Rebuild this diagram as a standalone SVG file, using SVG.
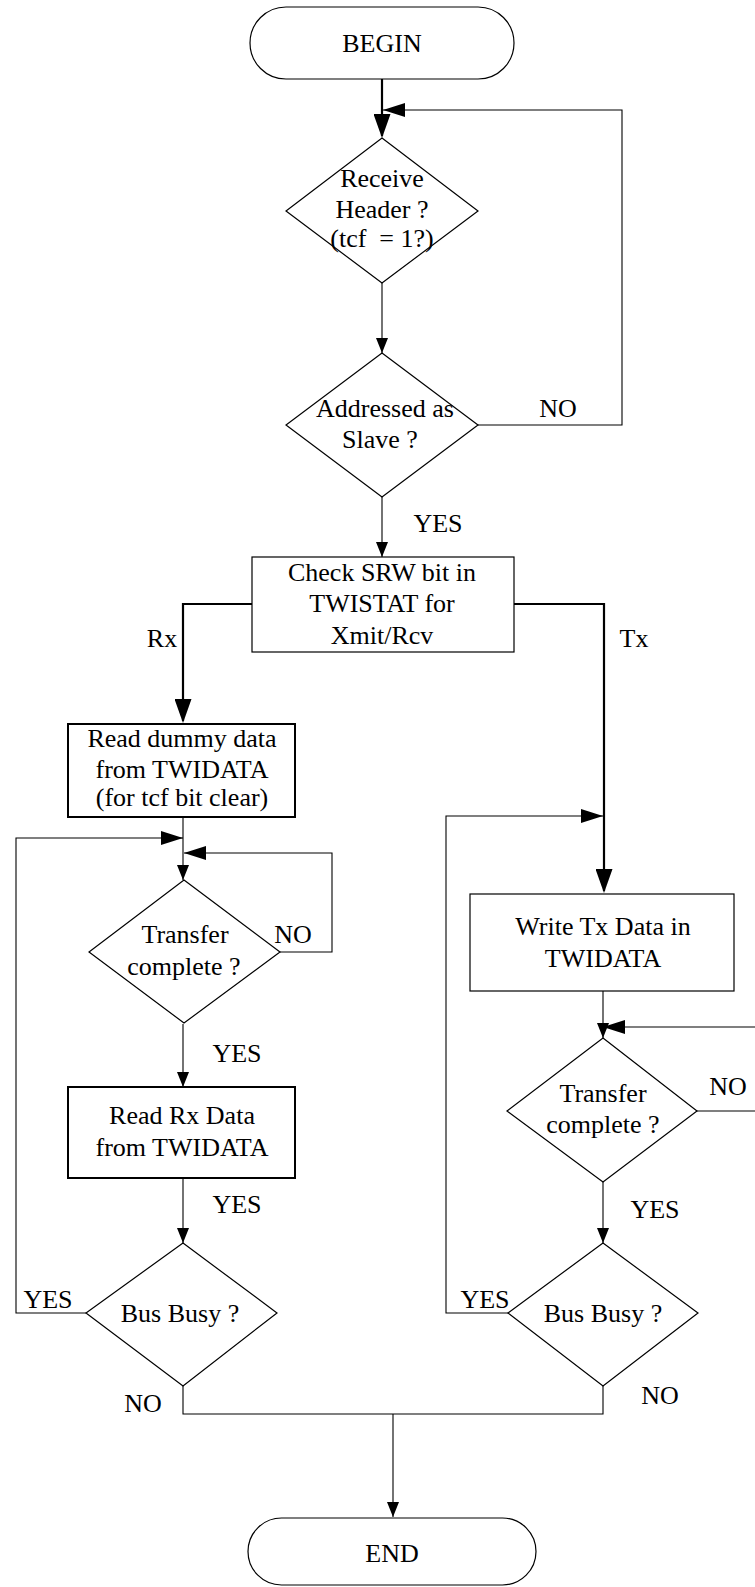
<svg xmlns="http://www.w3.org/2000/svg" width="755" height="1587" viewBox="0 0 755 1587">
  <style>
    text { font-family: "Liberation Serif", "Times New Roman", serif; font-size: 26px; fill: #000; text-anchor: middle; }
    .shape { fill: #fff; stroke: #000; stroke-width: 1.2; }
    .box-bold { fill: #fff; stroke: #000; stroke-width: 2; }
    .wire { fill: none; stroke: #000; stroke-width: 1.1; }
    .wire-bold { fill: none; stroke: #000; stroke-width: 2.2; }
  </style>
  <defs>
    <marker id="arrow-small" markerUnits="userSpaceOnUse" viewBox="0 0 15 12" markerWidth="15" markerHeight="12" refX="15" refY="6" orient="auto">
      <path d="M0,0 L15,6 L0,12 Z" fill="#000"/>
    </marker>
    <marker id="arrow-mid" markerUnits="userSpaceOnUse" viewBox="0 0 22 14" markerWidth="22" markerHeight="14" refX="22" refY="7" orient="auto">
      <path d="M0,0 L22,7 L0,14 Z" fill="#000"/>
    </marker>
    <marker id="arrow-big" markerUnits="userSpaceOnUse" viewBox="0 0 24 17" markerWidth="24" markerHeight="17" refX="22" refY="8.5" orient="auto">
      <path d="M0,0 L24,8.5 L0,17 Z" fill="#000"/>
    </marker>
  </defs>

  <!-- connectors -->
  <g id="connectors">
    <path class="wire-bold" d="M382,79 V136" marker-end="url(#arrow-big)"/>
    <path class="wire" d="M478,425 H622 V110 H383" marker-end="url(#arrow-mid)"/>
    <path class="wire" d="M382,283 V353" marker-end="url(#arrow-small)"/>
    <path class="wire" d="M382,497 V557" marker-end="url(#arrow-small)"/>
    <path class="wire-bold" d="M252,604 H183 V721" marker-end="url(#arrow-big)"/>
    <path class="wire-bold" d="M514,604 H604 V891" marker-end="url(#arrow-big)"/>
    <path class="wire" d="M183,818 V880" marker-end="url(#arrow-small)"/>
    <path class="wire" d="M86,1313 H16 V838 H183" marker-end="url(#arrow-mid)"/>
    <path class="wire" d="M280,952 H332 V853 H184" marker-end="url(#arrow-mid)"/>
    <path class="wire" d="M183,1024 V1087" marker-end="url(#arrow-small)"/>
    <path class="wire" d="M183,1178 V1243" marker-end="url(#arrow-small)"/>
    <path class="wire" d="M508,1313 H446 V816 H603" marker-end="url(#arrow-mid)"/>
    <path class="wire" d="M603,991 V1038" marker-end="url(#arrow-small)"/>
    <path class="wire" d="M697,1111 H758 V1027 H603" marker-end="url(#arrow-mid)"/>
    <path class="wire" d="M603,1182 V1243" marker-end="url(#arrow-small)"/>
    <path class="wire" d="M183,1386 V1414 H603 V1386"/>
    <path class="wire" d="M393,1414 V1517" marker-end="url(#arrow-small)"/>

    <text x="558" y="417">NO</text>
    <text x="438" y="532">YES</text>
    <text x="162" y="647">Rx</text>
    <text x="634" y="647">Tx</text>
    <text x="293" y="943">NO</text>
    <text x="237" y="1062">YES</text>
    <text x="237" y="1213">YES</text>
    <text x="48" y="1308">YES</text>
    <text x="143" y="1412">NO</text>
    <text x="728" y="1095">NO</text>
    <text x="655" y="1218">YES</text>
    <text x="485" y="1308">YES</text>
    <text x="660" y="1404">NO</text>
  </g>

  <!-- start terminal -->
  <g id="begin">
    <rect class="shape" x="250" y="7" width="264" height="72" rx="36" ry="36"/>
    <text x="382" y="52">BEGIN</text>
  </g>

  <g id="receive-header">
    <polygon class="shape" points="382,138 478,211 382,283 286,211"/>
    <text x="382" y="187">Receive</text>
    <text x="382" y="218">Header ?</text>
    <text x="382" y="247" xml:space="preserve">(tcf  = 1?)</text>
  </g>

  <g id="addressed-as-slave">
    <polygon class="shape" points="382,353 478,425 382,497 286,425"/>
    <text x="385" y="417">Addressed as</text>
    <text x="380" y="448">Slave ?</text>
  </g>

  <g id="check-srw">
    <rect class="shape" x="252" y="557" width="262" height="95"/>
    <text x="382" y="581">Check SRW bit in</text>
    <text x="382" y="612">TWISTAT for</text>
    <text x="382" y="644">Xmit/Rcv</text>
  </g>

  <!-- receive branch -->
  <g id="read-dummy">
    <rect class="box-bold" x="68" y="724" width="227" height="93"/>
    <text x="182" y="747">Read dummy data</text>
    <text x="182" y="778">from TWIDATA</text>
    <text x="182" y="806">(for tcf bit clear)</text>
  </g>

  <g id="rx-transfer-complete">
    <polygon class="shape" points="184,880 280,952 184,1023 89,952"/>
    <text x="185" y="943">Transfer</text>
    <text x="184" y="975">complete ?</text>
  </g>

  <g id="read-rx-data">
    <rect class="box-bold" x="68" y="1087" width="227" height="91"/>
    <text x="182" y="1124">Read Rx Data</text>
    <text x="182" y="1156">from TWIDATA</text>
  </g>

  <g id="rx-bus-busy">
    <polygon class="shape" points="183,1243 277,1313 183,1386 86,1313"/>
    <text x="180" y="1322">Bus Busy ?</text>
  </g>

  <!-- transmit branch -->
  <g id="write-tx-data">
    <rect class="shape" x="470" y="894" width="264" height="97"/>
    <text x="603" y="935">Write Tx Data in</text>
    <text x="603" y="967">TWIDATA</text>
  </g>

  <g id="tx-transfer-complete">
    <polygon class="shape" points="603,1038 697,1111 603,1182 507,1111"/>
    <text x="603" y="1102">Transfer</text>
    <text x="603" y="1133">complete ?</text>
  </g>

  <g id="tx-bus-busy">
    <polygon class="shape" points="603,1243 698,1313 603,1386 508,1313"/>
    <text x="603" y="1322">Bus Busy ?</text>
  </g>

  <!-- end terminal -->
  <g id="end">
    <rect class="shape" x="248" y="1518" width="288" height="67" rx="33.5" ry="33.5"/>
    <text x="392" y="1562">END</text>
  </g>
</svg>
